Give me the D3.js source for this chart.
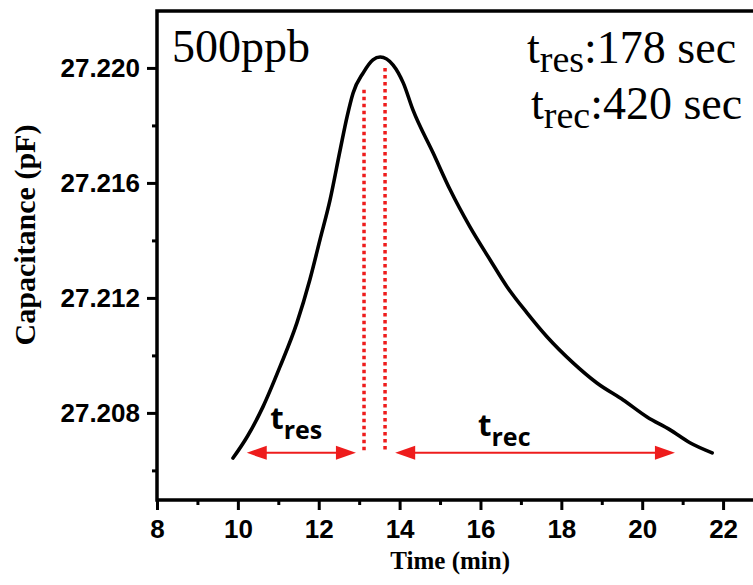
<!DOCTYPE html>
<html>
<head>
<meta charset="utf-8">
<script src="https://cdn.jsdelivr.net/npm/d3@7"></script>
<style>
  html, body { margin: 0; padding: 0; background: #fff; }
  svg { display: block; }
</style>
</head>
<body>
<svg id="chart" width="753" height="585"></svg>
<script>
// ---- data ----
const timeMin = [9.88, 10.23, 10.62, 11.04, 11.46, 11.78, 12.03, 12.28, 12.53, 12.70, 12.85, 13.10, 13.34, 13.52, 13.84, 14.09, 14.33, 14.83, 15.25, 15.74, 16.24, 16.66, 17.15, 17.65, 18.29, 18.88, 19.53, 20.12, 20.69, 21.18, 21.73];
const capacitance = [27.20643, 27.20717, 27.20821, 27.20960, 27.21113, 27.21263, 27.21402, 27.21541, 27.21715, 27.21830, 27.21913, 27.21983, 27.22028, 27.22038, 27.22010, 27.21948, 27.21854, 27.21704, 27.21576, 27.21447, 27.21332, 27.21238, 27.21148, 27.21064, 27.20974, 27.20904, 27.20845, 27.20786, 27.20741, 27.20696, 27.20661];
const xTicks = [8, 10, 12, 14, 16, 18, 20, 22];
const xMinorTicks = [9, 11, 13, 15, 17, 19, 21];
const yTicks = [27.208, 27.212, 27.216, 27.220];
const yMinorTicks = [27.206, 27.210, 27.214, 27.218];
const markerX = [13.12, 13.64];          // red dotted verticals
const markerTop = [27.21924, 27.22000];
const markerBottom = 27.20661;
const arrows = [ {name: "res", from: 10.22, to: 12.92}, {name: "rec", from: 13.89, to: 20.81} ];
const arrowY = 27.20661;
const concentration = "500ppb";
const tRes = "178 sec";
const tRec = "420 sec";

// ---- layout ----
const svg = d3.select("#chart");
const mLeft = 157, mRight = 753, mTop = 11, mBottom = 500;
const x = d3.scaleLinear().domain([8, 22.74]).range([mLeft, mRight]);
const y = d3.scaleLinear().domain([27.20497, 27.22198]).range([mBottom, mTop]);

const tickFont = "'Liberation Sans', Arial, sans-serif";
const serif = "'Liberation Serif', 'Times New Roman', serif";
const red = "#ee1c1c";

// minor ticks
svg.append("g").attr("transform", `translate(0,${mBottom})`)
  .call(d3.axisBottom(x).tickValues(xMinorTicks).tickSize(5).tickFormat(""))
  .call(g => g.select(".domain").remove())
  .call(g => g.selectAll("line").attr("stroke", "#000").attr("stroke-width", 3));
svg.append("g").attr("transform", `translate(${mLeft},0)`)
  .call(d3.axisLeft(y).tickValues(yMinorTicks).tickSize(5).tickFormat(""))
  .call(g => g.select(".domain").remove())
  .call(g => g.selectAll("line").attr("stroke", "#000").attr("stroke-width", 3));

// major axes
svg.append("g").attr("transform", `translate(0,${mBottom})`)
  .call(d3.axisBottom(x).tickValues(xTicks).tickSize(10).tickPadding(10).tickFormat(d3.format("d")))
  .call(g => g.select(".domain").remove())
  .call(g => g.selectAll("line").attr("stroke", "#000").attr("stroke-width", 3))
  .call(g => g.selectAll("text").attr("fill", "#000").style("font-family", tickFont)
      .style("font-weight", "bold").style("font-size", "26px"));
svg.append("g").attr("transform", `translate(${mLeft},0)`)
  .call(d3.axisLeft(y).tickValues(yTicks).tickSize(10).tickPadding(7).tickFormat(d3.format(".3f")))
  .call(g => g.select(".domain").remove())
  .call(g => g.selectAll("line").attr("stroke", "#000").attr("stroke-width", 3))
  .call(g => g.selectAll("text").attr("fill", "#000").style("font-family", tickFont)
      .style("font-weight", "bold").style("font-size", "26px"));

// frame lines (left, bottom, top)
svg.append("path")
  .attr("d", `M${mRight},${mTop}H${mLeft}V${mBottom}H${mRight}`)
  .attr("fill", "none").attr("stroke", "#000").attr("stroke-width", 3.5);

// axis titles
svg.append("text").attr("x", x(15.25)).attr("y", 569).attr("text-anchor", "middle")
  .style("font-family", serif).style("font-weight", "bold").style("font-size", "25px")
  .text("Time (min)");
svg.append("text").attr("transform", `translate(35,235) rotate(-90)`).attr("text-anchor", "middle")
  .style("font-family", serif).style("font-weight", "bold").style("font-size", "30px")
  .text("Capacitance (pF)");

// red dotted markers
markerX.forEach((mx, i) => {
  svg.append("line")
    .attr("x1", x(mx)).attr("x2", x(mx))
    .attr("y1", y(markerTop[i])).attr("y2", y(markerBottom))
    .attr("stroke", red).attr("stroke-width", 3.5).attr("stroke-dasharray", "3.5,3.5");
});

// data curve
const pts = timeMin.map((t, i) => [t, capacitance[i]]);
svg.append("path").datum(pts)
  .attr("d", d3.line().x(d => x(d[0])).y(d => y(d[1])).curve(d3.curveMonotoneX))
  .attr("fill", "none").attr("stroke", "#000").attr("stroke-width", 3.6)
  .attr("stroke-linejoin", "round").attr("stroke-linecap", "round");

// double arrows
arrows.forEach(a => {
  const x0 = x(a.from), x1 = x(a.to), yy = y(arrowY);
  const L = 20, H = 7;
  svg.append("line").attr("x1", x0 + L - 2).attr("x2", x1 - L + 2).attr("y1", yy).attr("y2", yy)
    .attr("stroke", red).attr("stroke-width", 2);
  svg.append("path").attr("d", `M${x0},${yy}L${x0 + L},${yy - H}L${x0 + L},${yy + H}Z`).attr("fill", red);
  svg.append("path").attr("d", `M${x1},${yy}L${x1 - L},${yy - H}L${x1 - L},${yy + H}Z`).attr("fill", red);
});

// t_res / t_rec labels above arrows
const labelFont = "'Open Sans', 'Noto Sans', sans-serif";
[{name: "res", xv: 10.8, base: 429}, {name: "rec", xv: 15.94, base: 436}].forEach(l => {
  const t = svg.append("text").attr("x", x(l.xv)).attr("y", l.base)
    .style("font-family", labelFont).style("font-weight", "bold").attr("fill", "#000");
  t.append("tspan").style("font-size", "31px").text("t");
  t.append("tspan").style("font-size", "25px").attr("dy", 10).text(l.name);
});

// annotations
svg.append("text").attr("x", 172).attr("y", 62)
  .style("font-family", serif).style("font-size", "46px").text(concentration);

[{sub: "res", val: tRes, xx: 527, base: 63}, {sub: "rec", val: tRec, xx: 531, base: 119}].forEach(a => {
  const t = svg.append("text").attr("x", a.xx).attr("y", a.base)
    .style("font-family", serif).attr("fill", "#000");
  t.append("tspan").style("font-size", "46px").text("t");
  t.append("tspan").style("font-size", "38px").attr("dy", 9).text(a.sub);
  t.append("tspan").style("font-size", "46px").attr("dy", -9).text(":" + a.val);
});
</script>
</body>
</html>
